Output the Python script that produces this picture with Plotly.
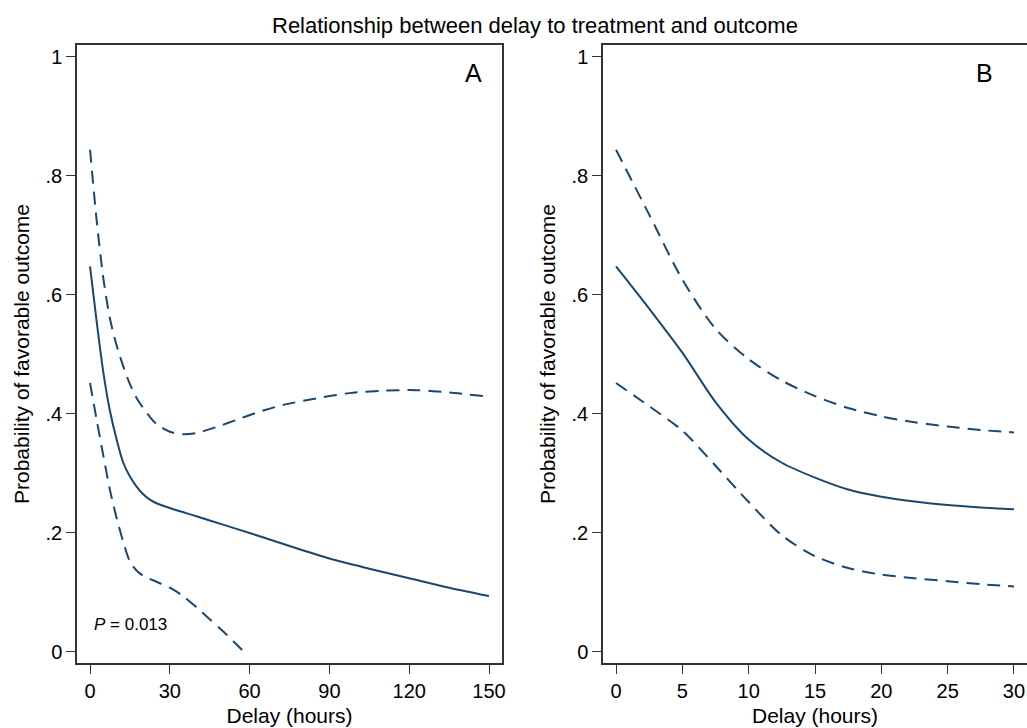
import plotly.graph_objects as go

# ---------------- data ----------------
# Panel A (delay 0-150 hours)
a_x_mid = [0, 2.5, 5, 7.5, 10, 12.5, 15, 17.5, 20, 22.5, 25, 30, 40, 50, 60, 75, 90, 105, 120, 135, 150]
a_mid = [0.648, 0.555, 0.47, 0.405, 0.357, 0.318, 0.295, 0.278, 0.265, 0.256, 0.25, 0.242,
         0.228, 0.214, 0.2, 0.178, 0.157, 0.14, 0.124, 0.108, 0.094]

a_x_up = [0, 2.5, 5, 7.5, 10, 12.5, 15, 17.5, 20, 22.5, 25, 30, 35, 40, 47.5, 55, 62.5, 72.5,
          85, 97.5, 110, 122.5, 135, 150]
a_up = [0.844, 0.725, 0.628, 0.56, 0.515, 0.48, 0.45, 0.427, 0.41, 0.395, 0.383, 0.37, 0.366,
        0.368, 0.378, 0.39, 0.402, 0.415, 0.426, 0.435, 0.439, 0.44, 0.436, 0.429]

a_x_lo = [0, 2.5, 5, 7.5, 10, 12.5, 15, 17.5, 20, 25, 30, 35, 40, 45, 50, 55, 58]
a_lo = [0.452, 0.39, 0.33, 0.272, 0.225, 0.185, 0.152, 0.137, 0.128, 0.118, 0.108, 0.094,
        0.075, 0.055, 0.035, 0.013, 0.0]

# Panel B (delay 0-30 hours)
b_x = [0, 2.5, 5, 7.5, 10, 12.5, 15, 17.5, 20, 22.5, 25, 27.5, 30]
b_mid = [0.648, 0.577, 0.503, 0.42, 0.357, 0.318, 0.293, 0.273, 0.261, 0.253, 0.247, 0.243, 0.240]
b_up = [0.844, 0.735, 0.626, 0.543, 0.492, 0.456, 0.43, 0.41, 0.396, 0.386, 0.379, 0.373, 0.369]
b_lo = [0.452, 0.413, 0.372, 0.313, 0.252, 0.196, 0.161, 0.141, 0.13, 0.124, 0.119, 0.114, 0.11]

a_ticks = [0, 30, 60, 90, 120, 150]
b_ticks = [0, 5, 10, 15, 20, 25, 30]
y_ticks = [0, 0.2, 0.4, 0.6, 0.8, 1]
y_ticktext = ["0", ".2", ".4", ".6", ".8", "1"]

title_text = "Relationship between delay to treatment and outcome"
x_title = "Delay (hours)"
y_title = "Probability of favorable outcome"
p_text = "<i>P</i> = 0.013"

# ---------------- figure ----------------
COL = "#1a476f"
FONT = "Liberation Sans, Arial, Helvetica, sans-serif"
DASH = "13px,8px"

fig = go.Figure()

def add_line(x, y, xa, ya, dashed):
    fig.add_trace(go.Scatter(
        x=x, y=y, xaxis=xa, yaxis=ya, mode="lines",
        line=dict(color=COL, width=2, shape="spline", smoothing=0.8,
                  dash=DASH if dashed else "solid"),
        showlegend=False, hoverinfo="skip"))

add_line(a_x_mid, a_mid, "x", "y", False)
add_line(a_x_up, a_up, "x", "y", True)
add_line(a_x_lo, a_lo, "x", "y", True)
add_line(b_x, b_mid, "x2", "y2", False)
add_line(b_x, b_up, "x2", "y2", True)
add_line(b_x, b_lo, "x2", "y2", True)

axis_common = dict(
    showline=True, mirror=True, linecolor="#333333", linewidth=1.5,
    ticks="outside", ticklen=9, tickwidth=1.2, tickcolor="#333333",
    showgrid=False, zeroline=False,
    tickfont=dict(family=FONT, size=20, color="black"),
    automargin=False,
)

yrange = [-0.0185, 1.02]

fig.update_layout(
    width=1027, height=728,
    margin=dict(l=77, r=0, t=45, b=65),
    paper_bgcolor="white", plot_bgcolor="white",
    font=dict(family=FONT, color="black"),
    xaxis=dict(domain=[0, 0.4474], range=[-4.9, 154.9], tickvals=a_ticks,
               title=dict(text=x_title, font=dict(family=FONT, size=21), standoff=8),
               anchor="y", **axis_common),
    yaxis=dict(domain=[0, 1], range=yrange, tickvals=y_ticks, ticktext=y_ticktext,
               title=dict(text=y_title, font=dict(family=FONT, size=21), standoff=10),
               anchor="x", **axis_common),
    xaxis2=dict(domain=[0.5537, 1], range=[-0.98, 30.98], tickvals=b_ticks,
                title=dict(text=x_title, font=dict(family=FONT, size=21), standoff=8),
                anchor="y2", **axis_common),
    yaxis2=dict(domain=[0, 1], range=yrange, tickvals=y_ticks, ticktext=y_ticktext,
                title=dict(text=y_title, font=dict(family=FONT, size=21), standoff=10),
                anchor="x2", **axis_common),
)

fig.add_annotation(text=title_text, xref="paper", yref="paper", x=0.482, y=1.032,
                   xanchor="center", yanchor="middle", showarrow=False,
                   font=dict(family=FONT, size=22, color="black"))
fig.add_annotation(text="A", xref="x domain", yref="y domain", x=0.932, y=0.955,
                   xanchor="center", yanchor="middle", showarrow=False,
                   font=dict(family=FONT, size=25, color="black"))
fig.add_annotation(text="B", xref="x2 domain", yref="y2 domain", x=0.899, y=0.955,
                   xanchor="center", yanchor="middle", showarrow=False,
                   font=dict(family=FONT, size=25, color="black"))
fig.add_annotation(text=p_text, xref="x domain", yref="y domain", x=0.036, y=0.063,
                   xanchor="left", yanchor="middle", showarrow=False,
                   font=dict(family=FONT, size=17, color="black"))

fig.write_html(
    "out.html",
    config={"displayModeBar": False},
    post_script="document.body.style.margin='0';document.body.style.overflow='hidden';",
)
